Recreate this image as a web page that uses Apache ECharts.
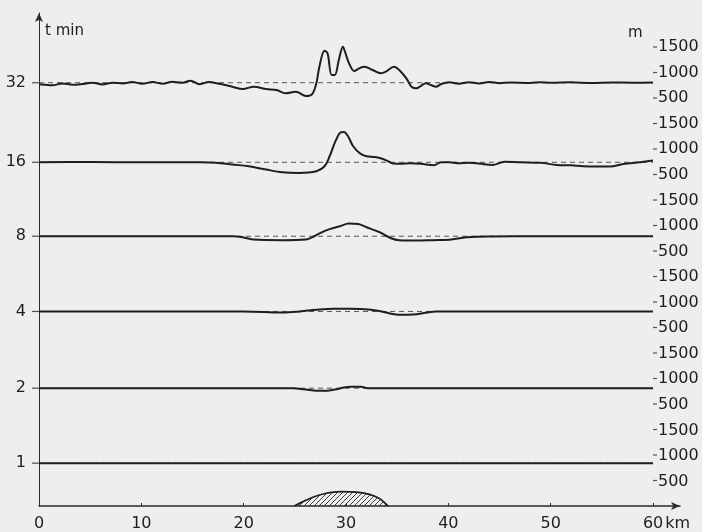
<!DOCTYPE html>
<html><head><meta charset="utf-8">
<script src="https://cdn.jsdelivr.net/npm/echarts@6/dist/echarts.min.js"></script>
<style>html,body{margin:0;padding:0;background:#eeeeec}#c{width:702px;height:532px}</style>
</head><body><div id="c"></div>
<script>
// ---- data ----
const timeLabels = ['32', '16', '8', '4', '2', '1'];           // t min, top to bottom
const baseLevels = [800, 740, 790, 815, 810, 840];               // m, level of each reference line
const panelStep = 1500;                                          // m per panel on right scale
const xTicks = [0, 10, 20, 30, 40, 50, 60];                      // km
const rightTickValues = [500,1000,1500,2000,2500,3000,3500,4000,4500,5000,5500,6000,6500,7000,7500,8000,8500,9000];

const t32Km  = [0,0.3,1.3,2.3,3.3,4.2,5.2,6.2,7.2,8.2,9.1,10.1,11.1,12.1,13.0,14.0,14.8,15.7,16.6,17.6,18.9,19.9,21.0,22.2,23.2,24.1,25.1,26.1,26.7,27.1,27.4,27.9,28.2,28.6,28.9,29.3,29.7,29.9,30.3,30.8,31.3,31.8,32.6,33.4,33.9,34.7,35.2,35.9,36.4,36.9,37.3,37.8,38.3,38.8,39.3,40.1,41,42,43,44,45,46,48,49,50,52,54,56,58,60];
const t32Dev = [-30,-33,-52,-13,-39,-26,0,-33,0,-13,13,-20,13,-20,20,0,39,-30,13,-20,-78,-124,-78,-124,-143,-208,-176,-261,-222,-12,314,627,576,151,151,445,706,608,380,229,282,314,249,184,216,314,249,86,-78,-110,-65,-12,-45,-78,-25,8,-20,10,-15,15,-10,5,-5,10,0,8,-5,5,0,5];

const t16Km  = [0,5,10,15.7,17.3,18.9,20.5,22.2,23.8,25.4,27.1,27.9,28.4,28.9,29.4,29.8,30.2,30.7,31.4,32.0,32.7,33.3,34.0,34.6,35.3,36.3,37.3,38.6,39.3,40.1,41,42,43,44.3,45.5,47,49,50.6,52,53.2,55.8,57.1,58.7,60];
const t16Dev = [0,5,0,0,-10,-45,-78,-143,-196,-208,-176,-78,118,379,575,595,510,314,170,118,105,85,33,-26,-30,-20,-30,-59,0,0,-20,-10,-25,-53,10,0,-10,-52,-60,-78,-85,-33,0,33];

const t8Km  = [0,10,18.9,19.9,20.9,23.8,26.1,26.9,28.0,29.4,30.3,31.2,32.0,33.3,34.4,35.2,36.9,38.5,40.1,41.8,46.6,60];
const t8Dev = [0,0,0,-20,-65,-78,-65,0,111,196,248,240,176,78,-39,-78,-85,-78,-70,-20,0,0];

const t4Km  = [0,20,23.8,25.5,27.1,28.8,30.5,32.2,33.5,34.4,35.2,36.6,37.8,38.8,60];
const t4Dev = [0,0,-20,0,33,53,53,40,0,-45,-65,-60,-25,0,0];

const t2Km  = [0,24.8,25.4,26.1,27.1,28.2,29.2,29.8,30.5,31.5,32.1,60];
const t2Dev = [0,0,-10,-25,-52,-50,-15,15,26,26,0,0];

const t1Km  = [0,60];
const t1Dev = [0,0];

const hillKm = [24.95,25.8,27.1,28.4,29.7,31.0,32.3,33.3,33.9,34.1];
const hillM  = [0,86,196,261,281,274,229,144,40,0];

// ---- layout ----
const Y_MAX = 9667;
const X_MAX = 62.64;
const pxPerUnit = (507 - 13) / Y_MAX;
const font = 'DejaVu Sans';
const ink = '#1e1e1e';
const axisInk = '#2a2a2a';

const panels = [[t32Km,t32Dev],[t16Km,t16Dev],[t8Km,t8Dev],[t4Km,t4Dev],[t2Km,t2Dev],[t1Km,t1Dev]];
const n = panels.length;
const baseOf = i => (n - 1 - i) * panelStep + baseLevels[i];
const leftVals = timeLabels.map((_, i) => baseOf(i));
const xFirst = xTicks[0], xLast = xTicks[xTicks.length - 1];

function hatch() {
  const c = document.createElement('canvas'); c.width = c.height = 5;
  const g = c.getContext('2d');
  g.strokeStyle = '#2a2a2a'; g.lineWidth = 0.9;
  g.beginPath();
  g.moveTo(0, 5); g.lineTo(5, 0);
  g.moveTo(-1, 1); g.lineTo(1, -1);
  g.moveTo(4, 6); g.lineTo(6, 4);
  g.stroke();
  return c;
}

const series = [];
panels.forEach((p, i) => {
  const base = baseOf(i);
  series.push({
    type: 'line', xAxisIndex: 0, yAxisIndex: 0, symbol: 'none', silent: true, z: 2,
    data: [[xFirst, base], [xLast, base]],
    lineStyle: { color: '#555', width: 1, type: [5, 4] }
  });
  series.push({
    type: 'line', xAxisIndex: 0, yAxisIndex: 0, symbol: 'none', silent: true, z: 3,
    smooth: 0.35,
    data: p[0].map((x, j) => [x, base + p[1][j]]),
    lineStyle: { color: ink, width: 2 }
  });
});
series.push({
  type: 'line', xAxisIndex: 0, yAxisIndex: 0, symbol: 'none', silent: true, z: 4,
  smooth: 0.4,
  data: hillKm.map((x, j) => [x, hillM[j]]),
  lineStyle: { color: ink, width: 1.8 },
  areaStyle: { color: { image: hatch(), repeat: 'repeat' }, opacity: 1 }
});
// axis tick marks (left: at each panel; right: every 500 m)
series.push({
  type: 'scatter', xAxisIndex: 0, yAxisIndex: 0, silent: true, clip: false, z: 5,
  symbol: 'rect', symbolSize: [7, 1.2], symbolOffset: [-3.5, 0],
  itemStyle: { color: axisInk },
  data: leftVals.map(v => [xFirst, v])
});
series.push({
  type: 'scatter', xAxisIndex: 0, yAxisIndex: 0, silent: true, clip: false, z: 5,
  symbol: 'rect', symbolSize: [4, 1.2], symbolOffset: [2, 0],
  itemStyle: { color: axisInk },
  data: rightTickValues.map(v => [xLast, v])
});

const chart = echarts.init(document.getElementById('c'), null, { renderer: 'canvas' });
chart.setOption({
  backgroundColor: '#eeeeec',
  animation: false,
  grid: [
    { left: 39, right: 22, top: 13, bottom: 25 },
    { left: 39, right: 49, top: 32, bottom: 37 }
  ],
  xAxis: [
    {
      gridIndex: 0, type: 'value', min: 0, max: X_MAX,
      axisLine: { show: true, symbol: ['none', 'arrow'], symbolSize: [6, 9], lineStyle: { color: axisInk, width: 1.5 } },
      axisTick: { show: true, inside: true, length: 3, customValues: xTicks, lineStyle: { color: axisInk } },
      splitLine: { show: false },
      axisLabel: {
        customValues: xTicks, margin: 10, color: ink, fontFamily: font, fontSize: 16,
        formatter: v => v === xLast ? '{p|}' + v + '{u|km}' : String(v),
        rich: {
          p: { width: 27 },
          u: { fontFamily: font, fontSize: 16, color: ink, padding: [0, 0, 0, 2] }
        }
      }
    },
    { gridIndex: 1, type: 'value', min: 0, max: 1, show: false }
  ],
  yAxis: [
    {
      gridIndex: 0, type: 'value', position: 'left', min: 0, max: Y_MAX,
      axisLine: { show: true, symbol: ['none', 'arrow'], symbolSize: [6, 9], lineStyle: { color: axisInk, width: 1 } },
      axisTick: { show: false },
      splitLine: { show: false },
      axisLabel: {
        customValues: leftVals, margin: 13, color: ink, fontFamily: font, fontSize: 16,
        formatter: v => { const k = leftVals.findIndex(b => Math.abs(b - v) < 1); return k >= 0 ? timeLabels[k] : ''; }
      }
    },
    {
      gridIndex: 1, type: 'value', position: 'right',
      min: (507 - 495) / pxPerUnit, max: (507 - 32) / pxPerUnit,
      axisLine: { show: true, lineStyle: { color: axisInk, width: 1 } },
      axisTick: { show: false },
      splitLine: { show: false },
      axisLabel: {
        customValues: rightTickValues, margin: 5, color: ink, fontFamily: font, fontSize: 16,
        formatter: v => String(((Math.round(v) - 1) % panelStep) + 1)
      }
    }
  ],
  graphic: [
    { type: 'text', left: 45, top: 24, style: { text: 't min', font: '15px "DejaVu Sans"', fill: ink } },
    { type: 'text', left: 628, top: 26, style: { text: 'm', font: '15px "DejaVu Sans"', fill: ink } }
  ],
  series: series
});
</script></body></html>
